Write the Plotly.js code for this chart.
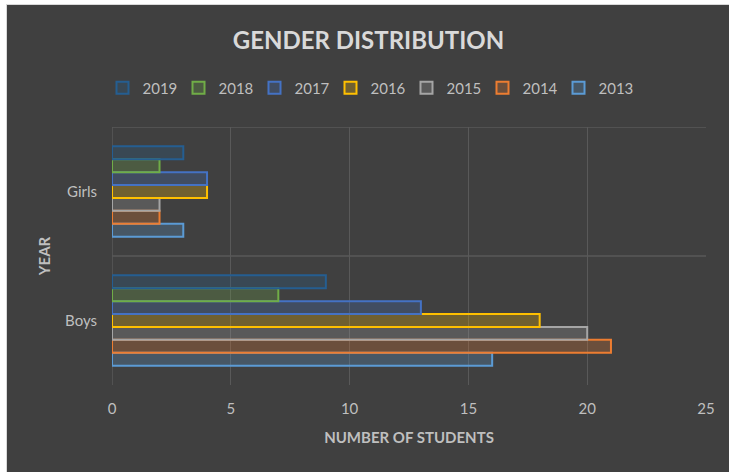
<!DOCTYPE html>
<html><head><meta charset="utf-8">
<script src="https://cdn.plot.ly/plotly-3.0.1.min.js"></script>
<style>
html,body{margin:0;padding:0;background:#ffffff;overflow:hidden;}
#chart{position:absolute;left:6px;top:4px;width:723px;height:468px;border-left:1px solid #d9d9d9;border-top:1px solid #d9d9d9;}
</style></head>
<body><div id="chart"></div>
<script>
const categories = ["Boys", "Girls"];
const years = ["2013", "2014", "2015", "2016", "2017", "2018", "2019"];
const v2013 = [16, 3];
const v2014 = [21, 2];
const v2015 = [20, 2];
const v2016 = [18, 4];
const v2017 = [13, 4];
const v2018 = [7, 2];
const v2019 = [9, 3];
const seriesValues = [v2013, v2014, v2015, v2016, v2017, v2018, v2019];
const colors = ["#5B9BD5", "#ED7D31", "#A5A5A5", "#FFC000", "#4472C4", "#70AD47", "#255E91"];
const xTicks = [0, 5, 10, 15, 20, 25];

function hexA(h, a) {
  const r = parseInt(h.slice(1,3),16), g = parseInt(h.slice(3,5),16), b = parseInt(h.slice(5,7),16);
  return `rgba(${r},${g},${b},${a})`;
}

const traces = years.map((y, i) => ({
  type: 'bar', orientation: 'h', name: y,
  y: categories, x: seriesValues[i],
  marker: {color: hexA(colors[i], 0.25), line: {color: colors[i], width: 2}},
  hoverinfo: 'x+name'
}));

const font = "Lato, 'Open Sans', sans-serif";
const layout = {
  width: 723, height: 468,
  paper_bgcolor: '#404040', plot_bgcolor: '#404040',
  margin: {l: 105, r: 24, t: 122, b: 88},
  font: {family: font, color: '#bfbfbf', size: 15},
  title: {text: '<b>GENDER DISTRIBUTION</b>', font: {family: font, size: 24, color: '#d9d9d9'},
          x: 0.5, xref: 'container', y: 1 - 36/468, yref: 'container', yanchor: 'middle'},
  barmode: 'group', bargap: 0.3, bargroupgap: 0,
  showlegend: true,
  legend: {orientation: 'h', traceorder: 'reversed', xref: 'container', x: 0.5, xanchor: 'center',
           yref: 'container', y: 1 - 83/468, yanchor: 'middle',
           entrywidth: 31, entrywidthmode: 'pixels',
           font: {family: font, size: 15, color: '#bfbfbf'}, itemwidth: 30, tracegroupgap: 0},
  xaxis: {range: [0, 25], tickvals: xTicks, showgrid: true, gridcolor: '#595959', gridwidth: 1,
          zeroline: false, showline: false, ticks: '', ticklabelstandoff: 13,
          tickfont: {family: font, size: 15, color: '#bfbfbf'},
          title: {text: '<b>NUMBER OF STUDENTS</b>', font: {family: font, size: 15, color: '#bfbfbf'}, standoff: 16},
          fixedrange: true},
  yaxis: {type: 'category', categoryarray: categories, range: [-0.5, 1.5], showgrid: false,
          zeroline: false, showline: false, ticks: '', ticklabelstandoff: 14,
          tickfont: {family: font, size: 15, color: '#bfbfbf'},
          title: {text: '<b>YEAR</b>', font: {family: font, size: 15, color: '#bfbfbf'}, standoff: 10},
          fixedrange: true},
  shapes: [
    {type: 'line', xref: 'paper', yref: 'y', x0: 0, x1: 1, y0: 1.5, y1: 1.5, line: {color: '#595959', width: 1.5}, layer: 'below'},
    {type: 'line', xref: 'paper', yref: 'y', x0: 0, x1: 1, y0: 0.5, y1: 0.5, line: {color: '#595959', width: 1.5}, layer: 'below'},
    {type: 'line', xref: 'x', yref: 'paper', x0: 0, x1: 0, y0: 0, y1: 1, line: {color: '#595959', width: 1.5}, layer: 'below'}
  ]
};
Plotly.newPlot('chart', traces, layout, {displayModeBar: false, staticPlot: true});
</script></body></html>
